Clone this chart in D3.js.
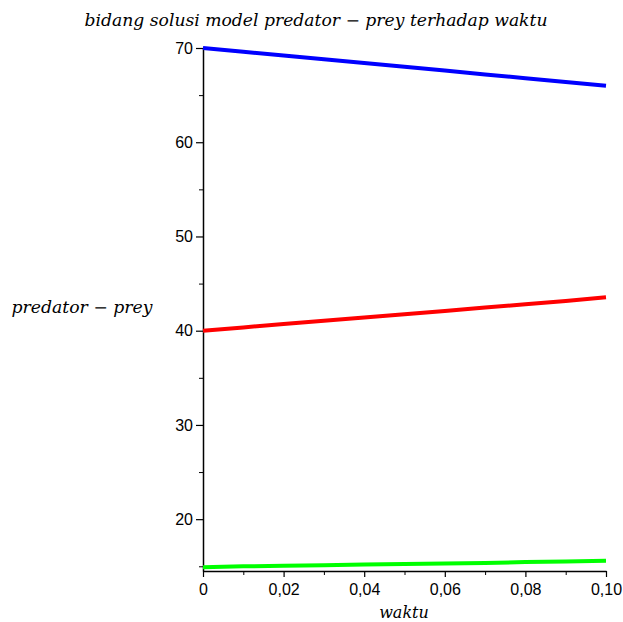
<!DOCTYPE html>
<html>
<head>
<meta charset="utf-8">
<script src="https://cdn.jsdelivr.net/npm/d3@7"></script>
<style>
  body { margin: 0; background: #fff; }
  .tick text { font-family: "Liberation Sans", sans-serif; font-size: 16px; fill: #000; }
  .lbl { font-family: "DejaVu Serif", serif; font-style: italic; font-size: 16px; fill: #000; }
</style>
</head>
<body>
<div id="chart"></div>
<script>
// time points (waktu)
const waktu = [0, 0.01, 0.02, 0.03, 0.04, 0.05, 0.06, 0.07, 0.08, 0.09, 0.10];
// the three solution curves
const seriesBlue = [70.0, 69.6, 69.2, 68.8, 68.4, 68.0, 67.6, 67.2, 66.8, 66.4, 66.0];
const seriesRed = [40.0, 40.35, 40.7, 41.05, 41.4, 41.75, 42.1, 42.45, 42.8, 43.15, 43.55];
const seriesGreen = [14.9, 15.0, 15.05, 15.1, 15.2, 15.25, 15.3, 15.35, 15.45, 15.5, 15.6];
const xTicks = [0, 0.02, 0.04, 0.06, 0.08, 0.10];
const xTickLabels = ["0", "0,02", "0,04", "0,06", "0,08", "0,10"];
const yTicks = [20, 30, 40, 50, 60, 70];

const W = 623, H = 622;
const svg = d3.select("#chart").append("svg")
    .attr("width", W)
    .attr("height", H);

const x = d3.scaleLinear().domain([0, 0.1]).range([203, 606]);
const y = d3.scaleLinear().domain([14.5, 70]).range([571, 48]);

// minor ticks
const xMinor = [0.01, 0.03, 0.05, 0.07, 0.09];
const yMinor = [15, 25, 35, 45, 55, 65];

svg.append("g")
    .attr("transform", `translate(0,${y(14.5)})`)
    .call(d3.axisBottom(x).tickValues(xTicks).tickFormat((d, i) => xTickLabels[i]).tickSize(6).tickSizeOuter(0))
    .call(g => g.select(".domain").attr("stroke", "#000").attr("stroke-width", 1.5))
    .call(g => g.selectAll(".tick line").attr("stroke-width", 1.2))
    .call(g => g.selectAll(".tick text").attr("y", 13));

svg.append("g")
    .attr("transform", `translate(0,${y(14.5)})`)
    .call(d3.axisBottom(x).tickValues(xMinor).tickFormat("").tickSize(4))
    .call(g => g.select(".domain").remove());

svg.append("g")
    .attr("transform", `translate(${x(0)},0)`)
    .call(d3.axisLeft(y).tickValues(yTicks).tickSize(7).tickSizeOuter(0))
    .call(g => g.select(".domain").attr("stroke", "#000").attr("stroke-width", 1.5))
    .call(g => g.selectAll(".tick line").attr("stroke-width", 1.2))
    .call(g => g.selectAll(".tick text").attr("x", -10));

svg.append("g")
    .attr("transform", `translate(${x(0)},0)`)
    .call(d3.axisLeft(y).tickValues(yMinor).tickFormat("").tickSize(4))
    .call(g => g.select(".domain").remove());

const line = d3.line()
    .x((d, i) => x(waktu[i]))
    .y(d => y(d));

[[seriesBlue, "#0000ff"], [seriesRed, "#ff0000"], [seriesGreen, "#00ff00"]].forEach(([s, c]) => {
    svg.append("path")
        .datum(s)
        .attr("d", line)
        .attr("fill", "none")
        .attr("stroke", c)
        .attr("stroke-width", 4);
});

// title and axis labels
svg.append("text")
    .attr("class", "lbl")
    .attr("x", 316)
    .attr("y", 26)
    .attr("text-anchor", "middle")
    .attr("textLength", 463)
    .attr("lengthAdjust", "spacingAndGlyphs")
    .text("bidang solusi model predator \u2212 prey terhadap waktu");

svg.append("text")
    .attr("class", "lbl")
    .attr("x", 82)
    .attr("y", 313)
    .attr("text-anchor", "middle")
    .attr("textLength", 141)
    .attr("lengthAdjust", "spacingAndGlyphs")
    .text("predator \u2212 prey");

svg.append("text")
    .attr("class", "lbl")
    .attr("x", 404)
    .attr("y", 618)
    .attr("text-anchor", "middle")
    .text("waktu");
</script>
</body>
</html>
